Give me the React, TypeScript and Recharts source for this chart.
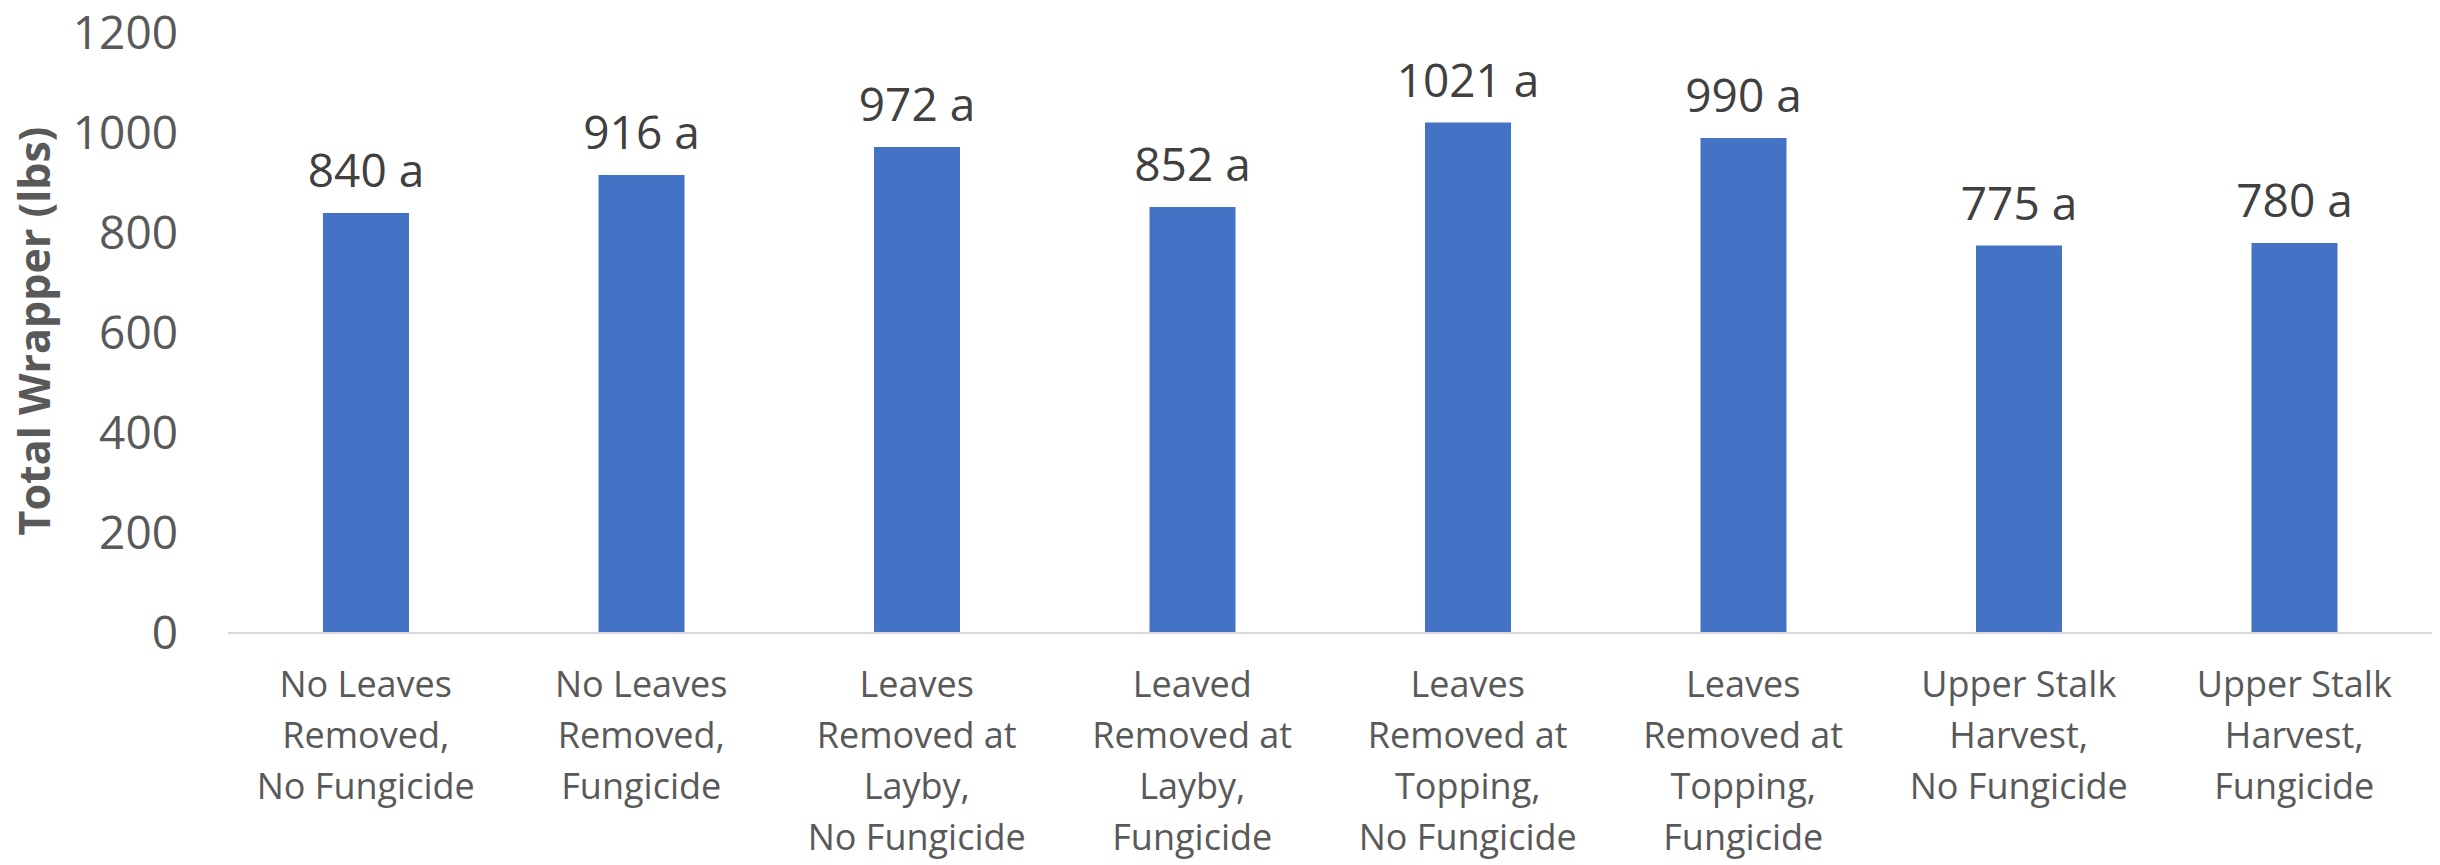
// App.tsx
import React from "react";
import { BarChart, Bar, XAxis, YAxis, LabelList } from "recharts";

// category labels, one entry per bar, line breaks as in the original axis
const categories = [
  "No Leaves\nRemoved,\nNo Fungicide",
  "No Leaves\nRemoved,\nFungicide",
  "Leaves\nRemoved at\nLayby,\nNo Fungicide",
  "Leaved\nRemoved at\nLayby,\nFungicide",
  "Leaves\nRemoved at\nTopping,\nNo Fungicide",
  "Leaves\nRemoved at\nTopping,\nFungicide",
  "Upper Stalk\nHarvest,\nNo Fungicide",
  "Upper Stalk\nHarvest,\nFungicide",
];

const totalWrapper = [840, 916, 972, 852, 1021, 990, 775, 780];
const letters = ["a", "a", "a", "a", "a", "a", "a", "a"];
const yTicks = [0, 200, 400, 600, 800, 1000, 1200];

const data = categories.map((name, i) => ({
  name,
  value: totalWrapper[i],
  label: `${totalWrapper[i]} ${letters[i]}`,
}));

const FONT = "'Open Sans', 'Noto Sans', sans-serif";

const CategoryTick = (props: any) => {
  const { x, y, payload } = props;
  const lines: string[] = String(payload.value).split("\n");
  return (
    <text
      x={x}
      y={y + 64}
      textAnchor="middle"
      fill="#595959"
      fontSize={36}
      fontFamily={FONT}
    >
      {lines.map((line, i) => (
        <tspan key={i} x={x} dy={i === 0 ? 0 : 51}>
          {line}
        </tspan>
      ))}
    </text>
  );
};

const AxisTitle = () => (
  <text
    x={50}
    y={331}
    transform="rotate(-90 50 331)"
    textAnchor="middle"
    fill="#595959"
    fontSize={43}
    fontWeight="bold"
    fontFamily={FONT}
  >
    Total Wrapper (lbs)
  </text>
);

export default function App() {
  return (
    <div style={{ position: "absolute", left: 0, top: 0, background: "#fff" }}>
      <BarChart
        width={2440}
        height={865}
        data={data}
        margin={{ top: 33, right: 8, bottom: 0, left: 0 }}
        style={{ fontFamily: FONT }}
      >
        <XAxis
          dataKey="name"
          height={232}
          interval={0}
          tickLine={false}
          tickSize={0}
          tickMargin={0}
          axisLine={{ stroke: "#d9d9d9", strokeWidth: 2 }}
          tick={<CategoryTick />}
        />
        <YAxis
          width={228}
          domain={[0, 1200]}
          ticks={yTicks}
          axisLine={false}
          tickLine={false}
          tickSize={0}
          tickMargin={50}
          tick={{ fill: "#595959", fontSize: 46, fontFamily: FONT }}
          label={{ content: () => <AxisTitle /> }}
        />
        <Bar dataKey="value" fill="#4472C4" barSize={86} isAnimationActive={false}>
          <LabelList
            dataKey="label"
            position="top"
            offset={26}
            fill="#404040"
            fontSize={46}
            fontFamily={FONT}
          />
        </Bar>
      </BarChart>
    </div>
  );
}
